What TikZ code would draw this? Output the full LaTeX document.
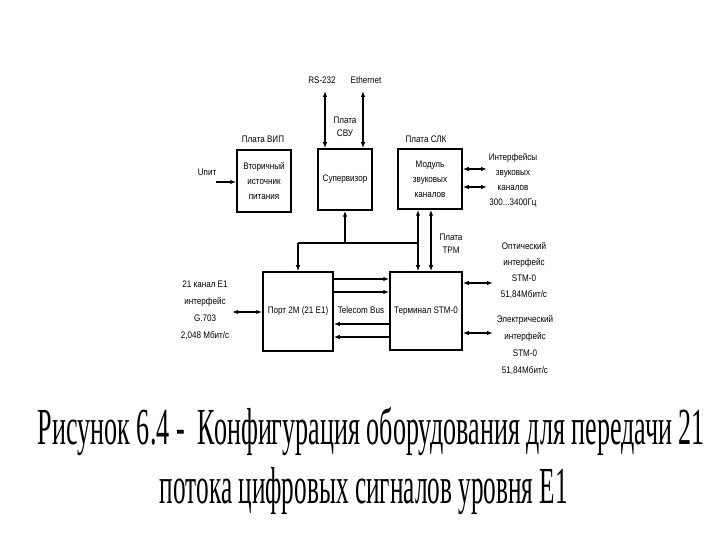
\documentclass[tikz,border=0pt]{standalone}
\usepackage{fontspec}
\usepackage{graphicx}
\setmainfont{Liberation Serif}
\newfontfamily\diagfont[FakeStretch=0.85]{Liberation Sans}
\usetikzlibrary{arrows.meta}
\tikzset{
  blk/.style={draw, line width=1.5bp, inner sep=0pt, align=center, font=\diagfont\fontsize{9.5bp}{15bp}\selectfont},
  lbl/.style={inner sep=0pt, align=center, font=\diagfont\fontsize{9.5bp}{15bp}\selectfont},
  wire/.style={line width=1.5bp},
  arr/.style={line width=1.5bp, -{Latex[length=6bp,width=4.5bp]}},
  darr/.style={line width=1.5bp, {Latex[length=6bp,width=4.5bp]}-{Latex[length=6bp,width=4.5bp]}},
  captext/.style={inner sep=0pt, anchor=base, font=\fontsize{52bp}{60bp}\selectfont}
}
\begin{document}
\begin{tikzpicture}[x=1bp,y=-1bp]
\useasboundingbox (0,0) rectangle (720,540);
% blocks
\node[blk, minimum width=54bp, minimum height=62bp] (vip) at (264,181) {Вторичный\\источник\\питания};
\node[blk, minimum width=54bp, minimum height=61bp] (sup) at (345,179.5) {Супервизор};
\node[blk, minimum width=64bp, minimum height=60bp] (slk) at (430,179) {Модуль\\звуковых\\каналов};
\node[blk, minimum width=70bp, minimum height=79bp] (port) at (298,311.5) {Порт 2М (21 Е1)};
\node[blk, minimum width=72bp, minimum height=78bp] (term) at (426,311) {Терминал STM-0};
% labels
\node[lbl] (lvip) at (263,139) {Плата ВИП};
\node[lbl] (lrs) at (322,80) {RS-232};
\node[lbl] (leth) at (366,80) {Ethernet};
\node[lbl, font=\diagfont\fontsize{9.5bp}{13bp}\selectfont] (lsvu) at (345,127) {Плата\\СВУ};
\node[lbl] (lslk) at (426,139) {Плата СЛК};
\node[lbl] (lu) at (207,172) {Uпит};
\node[lbl, font=\diagfont\fontsize{9.5bp}{15bp}\selectfont] (lint) at (513,180) {Интерфейсы\\звуковых\\каналов\\300...3400Гц};
\node[lbl, font=\diagfont\fontsize{9.5bp}{13bp}\selectfont] (ltrm) at (451,244) {Плата\\ТРМ};
\node[lbl] (ltb) at (361,310) {Telecom Bus};
\node[lbl, font=\diagfont\fontsize{9.5bp}{17bp}\selectfont] (lleft) at (205,310) {21 канал Е1\\интерфейс\\G.703\\2,048 Мбит/с};
\node[lbl, font=\diagfont\fontsize{9.5bp}{16bp}\selectfont] (lopt) at (524,271) {Оптический\\интерфейс\\STM-0\\51,84Мбит/с};
\node[lbl, font=\diagfont\fontsize{9.5bp}{17bp}\selectfont] (lel) at (525,345) {Электрический\\интерфейс\\STM-0\\51,84Мбит/с};
% coordinates
\coordinate (uin) at (216,182);
\coordinate (rsTop) at (325,91);
\coordinate (ethTop) at (363,91);
\coordinate (busL) at (298,243);
\coordinate (busM) at (345,243);
\coordinate (busR) at (418,243);
\coordinate (s1) at (418,0);
\coordinate (s2) at (431,0);
\coordinate (a1) at (487,169);
\coordinate (a2) at (487,187);
\coordinate (t1) at (0,279);
\coordinate (t2) at (0,292);
\coordinate (t3) at (0,324);
\coordinate (t4) at (0,337);
\coordinate (pin) at (232,312);
\coordinate (o1) at (493,283);
\coordinate (o2) at (493,333);
% connectors
\draw[arr] (uin) -- (uin -| vip.west);
\draw[darr] (rsTop) -- (rsTop |- sup.north);
\draw[darr] (ethTop) -- (ethTop |- sup.north);
\draw[wire] (busL) -- (busR);
\draw[arr] (busL) -- (busL |- port.north);
\draw[arr] (busM) -- (busM |- sup.south);
\draw[darr] (s1 |- slk.south) -- (s1 |- term.north);
\draw[darr] (s2 |- slk.south) -- (s2 |- term.north);
\draw[darr] (a1 -| slk.east) -- (a1);
\draw[darr] (a2 -| slk.east) -- (a2);
\draw[arr] (t1 -| port.east) -- (t1 -| term.west);
\draw[arr] (t2 -| port.east) -- (t2 -| term.west);
\draw[arr] (t3 -| term.west) -- (t3 -| port.east);
\draw[arr] (t4 -| term.west) -- (t4 -| port.east);
\draw[darr] (pin) -- (pin -| port.west);
\draw[darr] (o1 -| term.east) -- (o1);
\draw[darr] (o2 -| term.east) -- (o2);
% caption
\node[captext] (cap1) at (371.5,444) {\resizebox{667bp}{\height}{Рисунок 6.4 -\ \ Конфигурация оборудования для передачи 21}};
\node[captext] (cap2) at (364,503) {\resizebox{408bp}{\height}{потока цифровых сигналов уровня Е1}};
\end{tikzpicture}
\end{document}
